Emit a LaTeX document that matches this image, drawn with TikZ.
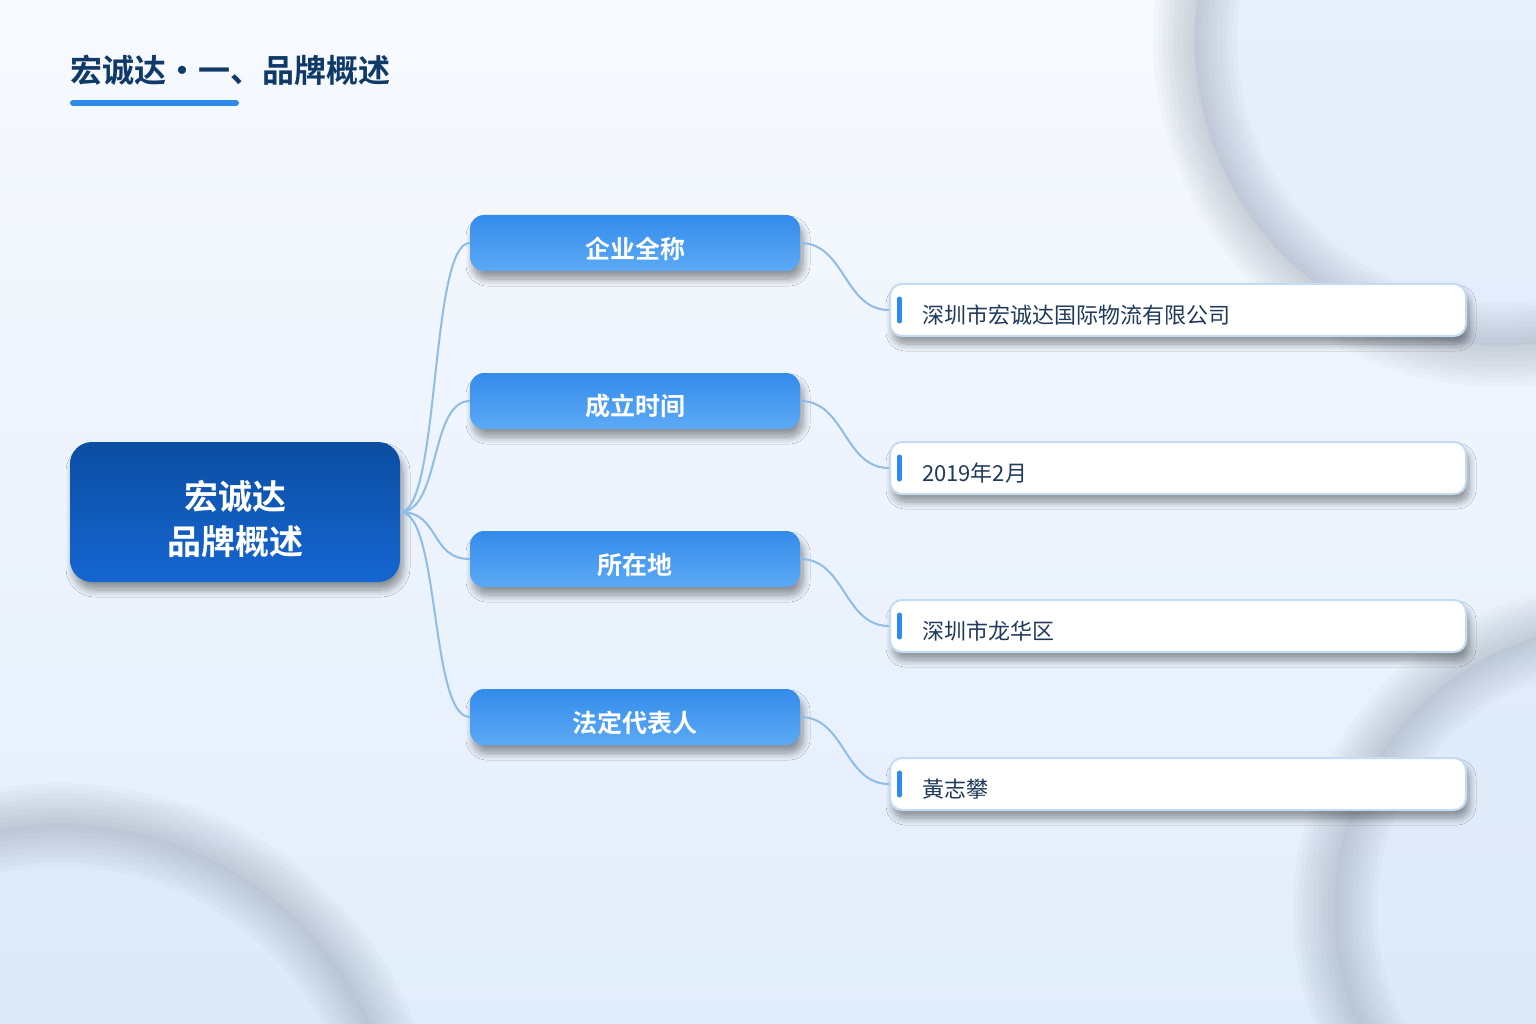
\documentclass[tikz,border=0pt]{standalone}
\usepackage{fontspec}
\setmainfont{Noto Sans CJK SC}[BoldFont={Noto Sans CJK SC Bold}]
\usetikzlibrary{positioning, shadows.blur}
\definecolor{navy}{HTML}{0F3A68}
\definecolor{accent}{HTML}{2E8BEE}
\definecolor{deepblue}{HTML}{0B4EA2}
\definecolor{midblue}{HTML}{1566D2}
\definecolor{skytop}{HTML}{338BEA}
\definecolor{skybot}{HTML}{5CAAF6}
\definecolor{linkblue}{HTML}{8FBDE6}
\definecolor{leafline}{HTML}{C2DCF5}
\definecolor{leaftext}{HTML}{1F3A5A}
\definecolor{bgtop}{HTML}{F7FAFE}
\definecolor{bgbot}{HTML}{E2EDFB}
\definecolor{disc}{HTML}{DCE8FA}
\definecolor{ringgrey}{HTML}{7C8798}
\tikzset{
  softshadow/.style={blur shadow={shadow xshift=3pt, shadow yshift=-8pt,
    shadow opacity=40, shadow blur steps=10, shadow blur radius=7pt}},
  lowtext/.style={execute at begin node={\rule{0pt}{1.3em}}},
  rootbox/.style={rectangle, rounded corners=22pt, top color=deepblue, bottom color=midblue,
    minimum width=330pt, minimum height=140pt, align=center, text=white,
    font=\fontsize{34}{45}\selectfont\bfseries, softshadow},
  branchbox/.style={rectangle, rounded corners=14pt, top color=skytop, bottom color=skybot,
    minimum width=330pt, minimum height=56pt, text=white, inner ysep=0pt,
    font=\fontsize{25}{30}\selectfont\bfseries, softshadow, lowtext},
  leafbox/.style={rectangle, rounded corners=12pt, draw=leafline, line width=2pt, fill=white,
    minimum height=52pt, text width=512pt, inner xsep=32pt, inner ysep=0pt, align=left,
    text=leaftext, font=\fontsize{22}{26}\selectfont, softshadow, lowtext},
  link/.style={linkblue, line width=2pt},
  accentbar/.style={accent, line width=5pt, line cap=round},
  ring/.style={ringgrey, opacity=0.045},
}

\begin{document}
\begin{tikzpicture}[x=1pt, y=-1pt]
\useasboundingbox (0,0) rectangle (1536,1024);
\begin{scope}
\clip (0,0) rectangle (1536,1024);
\shade[top color=bgtop, bottom color=bgbot] (0,0) rectangle (1536,1024);
% blurred rings
\foreach \cx/\cy/\r in {1500/40/305, 60/1165/340, 1620/910/285} {
  \fill[disc, opacity=0.6] (\cx,\cy) circle (\r);
  \foreach \w in {84,74,...,4}
    \draw[ring, line width=\w pt] (\cx,\cy) circle (\r);
}
\end{scope}

% title
\node[anchor=base west, inner sep=0pt, text=navy, font=\fontsize{32}{36}\selectfont\bfseries]
  (title) at (70,83) {宏诚达・一、品牌概述};
\draw[accentbar, line width=6pt] (73,103) -- (236,103);

% root and branches
\node[rootbox] (root) at (235,512) {\rule{0pt}{44pt}宏诚达\\品牌概述};
\node[branchbox] (name) at (635,243) {企业全称};
\node[branchbox] (date) at (635,401) {成立时间};
\node[branchbox] (site) at (635,559) {所在地};
\node[branchbox] (legal) at (635,717) {法定代表人};

% leaves
\node[leafbox] (namev) at (1178,310) {深圳市宏诚达国际物流有限公司};
\node[leafbox] (datev) at (1178,468) {2019年2月};
\node[leafbox] (sitev) at (1178,626) {深圳市龙华区};
\node[leafbox] (legalv) at (1178,784) {黃志攀};

\foreach \b/\v in {name/namev, date/datev, site/sitev, legal/legalv} {
  \draw[link] (root.east) .. controls +(40,0) and +(-40,0) .. (\b.west);
  \draw[link] (\b.east) .. controls +(45,0) and +(-45,0) .. (\v.west);
  \draw[accentbar] ([xshift=10.5pt, yshift=11pt]\v.west) -- ([xshift=10.5pt, yshift=-11pt]\v.west);
}
\end{tikzpicture}
\end{document}
